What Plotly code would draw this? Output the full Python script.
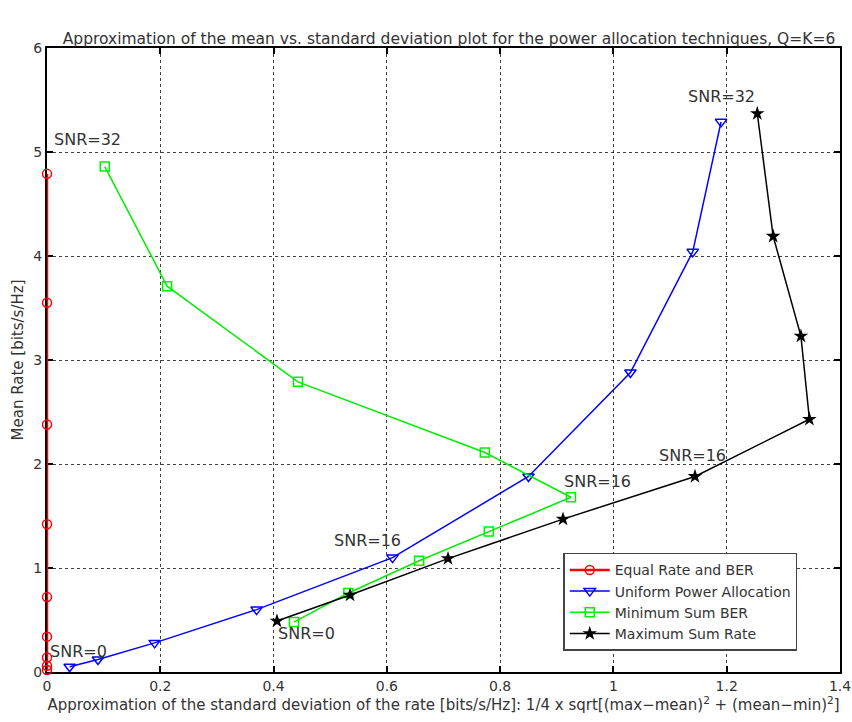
import plotly.graph_objects as go

# Equal Rate and BER
eq_x = [0, 0, 0, 0, 0, 0, 0, 0, 0]
eq_y = [0.02, 0.06, 0.14, 0.34, 0.72, 1.42, 2.38, 3.55, 4.79]

# Uniform Power Allocation
up_x = [0.04, 0.09, 0.19, 0.37, 0.61, 0.85, 1.03, 1.14, 1.19]
up_y = [0.05, 0.12, 0.28, 0.60, 1.10, 1.88, 2.88, 4.04, 5.29]

# Minimum Sum BER
mb_x = [0.436, 0.532, 0.657, 0.78, 0.925, 0.773, 0.443, 0.212, 0.102]
mb_y = [0.48, 0.76, 1.07, 1.35, 1.68, 2.11, 2.79, 3.71, 4.86]

# Maximum Sum Rate
ms_x = [0.406, 0.535, 0.708, 0.911, 1.144, 1.346, 1.331, 1.282, 1.254]
ms_y = [0.49, 0.74, 1.09, 1.47, 1.88, 2.43, 3.23, 4.19, 5.37]

# annotation texts and anchor values
ann_text = ["SNR=32", "SNR=0", "SNR=16", "SNR=16", "SNR=0", "SNR=16", "SNR=32"]
ann_x = [0.072, 0.056, 0.565, 0.971, 0.459, 1.14, 1.19]
ann_y = [5.12, 0.20, 1.26, 1.83, 0.375, 2.08, 5.53]

FONT = "DejaVu Sans, Verdana, sans-serif"
TXT = "#333333"

fig = go.Figure()
fig.add_trace(go.Scatter(x=eq_x, y=eq_y, mode="lines+markers", name="Equal Rate and BER",
                         line=dict(color="#ff0000", width=2.5),
                         marker=dict(symbol="circle-open", size=9, color="#ff0000", line=dict(width=1.5)),
                         cliponaxis=False))
fig.add_trace(go.Scatter(x=up_x, y=up_y, mode="lines+markers", name="Uniform Power Allocation",
                         line=dict(color="#0000ff", width=1.5),
                         marker=dict(symbol="triangle-down-open", size=10, color="#0000ff", line=dict(width=1.5)),
                         cliponaxis=False))
fig.add_trace(go.Scatter(x=mb_x, y=mb_y, mode="lines+markers", name="Minimum Sum BER",
                         line=dict(color="#00ee00", width=1.5),
                         marker=dict(symbol="square-open", size=9, color="#00ee00", line=dict(width=1.5)),
                         cliponaxis=False))
fig.add_trace(go.Scatter(x=ms_x, y=ms_y, mode="lines+markers", name="Maximum Sum Rate",
                         line=dict(color="#000000", width=1.5),
                         marker=dict(symbol="star", size=11, color="#000000"),
                         cliponaxis=False))

for t, x, y in zip(ann_text, ann_x, ann_y):
    fig.add_annotation(x=x, y=y, text=t, showarrow=False,
                       font=dict(family=FONT, size=16, color=TXT))

axis_common = dict(showline=True, linecolor="black", linewidth=2, mirror="ticks",
                   ticks="inside", ticklen=6, tickcolor="black", tickwidth=1.5,
                   showgrid=True, gridcolor="rgba(0,0,0,0.75)", griddash="dot", gridwidth=1,
                   zeroline=False, automargin=False, layer="below traces",
                   tickfont=dict(family=FONT, size=14, color=TXT))

fig.update_layout(
    width=852, height=722,
    paper_bgcolor="white", plot_bgcolor="white",
    margin=dict(l=47, r=12, t=48, b=50),
    title=dict(text="Approximation of the mean vs. standard deviation plot for the power allocation techniques, Q=K=6",
               x=0.527, xanchor="center", y=0.947, yanchor="middle",
               font=dict(family=FONT, size=15.5, color=TXT)),
    xaxis=dict(range=[0, 1.4], dtick=0.2, tick0=0,
               title=dict(text="Approximation of the standard deviation of the rate [bits/s/Hz]: 1/4 x sqrt[(max\u2212mean)<sup>2</sup> + (mean\u2212min)<sup>2</sup>]",
                          font=dict(family=FONT, size=15, color=TXT), standoff=4),
               **axis_common),
    yaxis=dict(range=[0, 6], dtick=1, tick0=0,
               title=dict(text="Mean Rate [bits/s/Hz]", font=dict(family=FONT, size=15, color=TXT), standoff=6),
               **axis_common),
    legend=dict(x=0.651, y=0.191, xanchor="left", yanchor="top",
                bgcolor="white", bordercolor="#444444", borderwidth=1.5,
                font=dict(family=FONT, size=14, color=TXT), tracegroupgap=0, itemwidth=40),
)

fig.write_html("out.html", config={"displayModeBar": False},
               post_script="document.body.style.margin='0';document.body.style.padding='0';")
